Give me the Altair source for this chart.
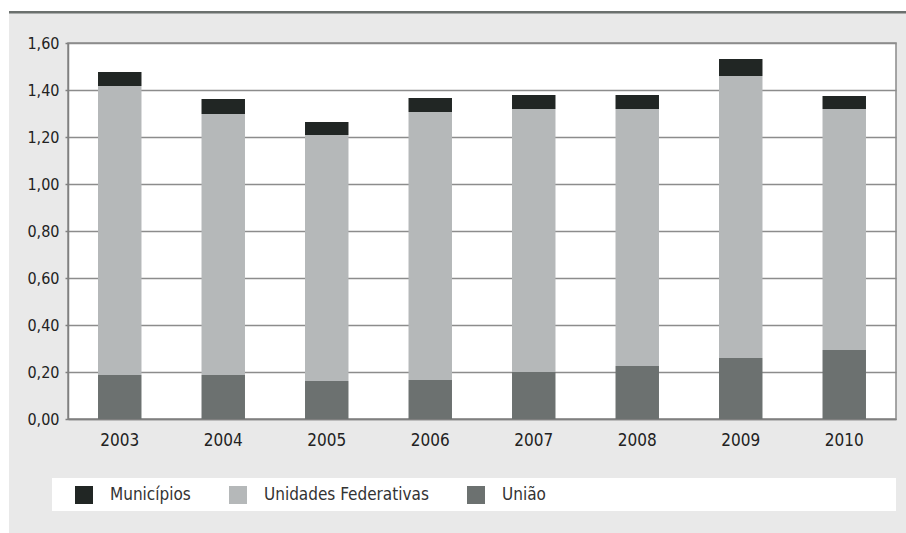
import altair as alt
import pandas as pd

# ---- data ----
years = ["2003", "2004", "2005", "2006", "2007", "2008", "2009", "2010"]
uniao = [0.187, 0.187, 0.162, 0.166, 0.200, 0.226, 0.260, 0.294]
unidades = [1.230, 1.111, 1.047, 1.140, 1.119, 1.093, 1.200, 1.025]
municipios = [0.060, 0.064, 0.055, 0.060, 0.060, 0.060, 0.072, 0.055]
series = ["Municípios", "Unidades Federativas", "União"]
colors = ["#212624", "#b5b8b9", "#6c7170"]
y_ticks = [0.0, 0.2, 0.4, 0.6, 0.8, 1.0, 1.2, 1.4, 1.6]

rows = []
for i, yr in enumerate(years):
    rows.append({"ano": yr, "serie": "União", "valor": uniao[i], "ordem": 0})
    rows.append({"ano": yr, "serie": "Unidades Federativas", "valor": unidades[i], "ordem": 1})
    rows.append({"ano": yr, "serie": "Municípios", "valor": municipios[i], "ordem": 2})
df = pd.DataFrame(rows)

FONT = "DejaVu Sans Condensed, DejaVu Sans, sans-serif"
W, H = 828, 376
PL, PT = 68, 43

one = alt.Data(values=[{"k": 0}])


def box(x, x2, y, y2, fill):
    return alt.Chart(one).mark_rect(fill=fill, strokeWidth=0).encode(
        x=alt.value(x), x2=alt.value(x2), y=alt.value(y), y2=alt.value(y2)
    )


top_white = box(-PL, W + 10, -PT, -32, "white")
left_white = box(-PL, -59, -PT, H + 114, "white")
top_rule = box(-59, W + 10, -32, -29.5, "#6b706e")
legend_box = box(-16, W, 435, 468, "white")

bars = alt.Chart(df).mark_bar().encode(
    x=alt.X(
        "ano:N",
        sort=years,
        scale=alt.Scale(paddingInner=0.58, paddingOuter=0.29),
        axis=alt.Axis(
            title=None, labelAngle=0, labelFont=FONT, labelFontSize=17,
            labelColor="#222222", labelPadding=13, ticks=False,
            domainColor="#808080", domainWidth=1.5,
        ),
    ),
    y=alt.Y(
        "valor:Q",
        stack="zero",
        scale=alt.Scale(domain=[0, 1.6], nice=False),
        axis=alt.Axis(
            title=None, values=y_ticks,
            labelExpr="replace(format(datum.value, '.2f'), '.', ',')",
            labelFont=FONT, labelFontSize=16, labelColor="#222222",
            labelPadding=6, tickSize=3, tickColor="#808080", tickWidth=1.5,
            domainColor="#808080", domainWidth=1.5,
            grid=True, gridColor="#8c8c8c", gridWidth=1.5,
        ),
    ),
    color=alt.Color(
        "serie:N",
        scale=alt.Scale(domain=series, range=colors),
        legend=alt.Legend(
            title=None, orient="none", direction="horizontal",
            legendX=7, legendY=443, padding=0,
            symbolType="square", symbolSize=324, symbolStrokeWidth=0,
            symbolOpacity=1, labelLimit=400,
            labelFont=FONT, labelFontSize=17, labelColor="#333333",
            labelOffset=17, columnPadding=38, zindex=1,
        ),
    ),
    order=alt.Order("ordem:Q", sort="ascending"),
)

chart = alt.layer(top_white, left_white, top_rule, legend_box, bars).properties(
    width=W, height=H,
    background="#e9e9e9",
    padding={"left": PL, "top": PT, "right": 10, "bottom": 114},
    autosize=alt.AutoSizeParams(type="none"),
).configure_view(
    fill="white", stroke="#8a8a8a", strokeWidth=1.5
)

chart.save("out.html", embed_options={"renderer": "svg", "actions": False})
